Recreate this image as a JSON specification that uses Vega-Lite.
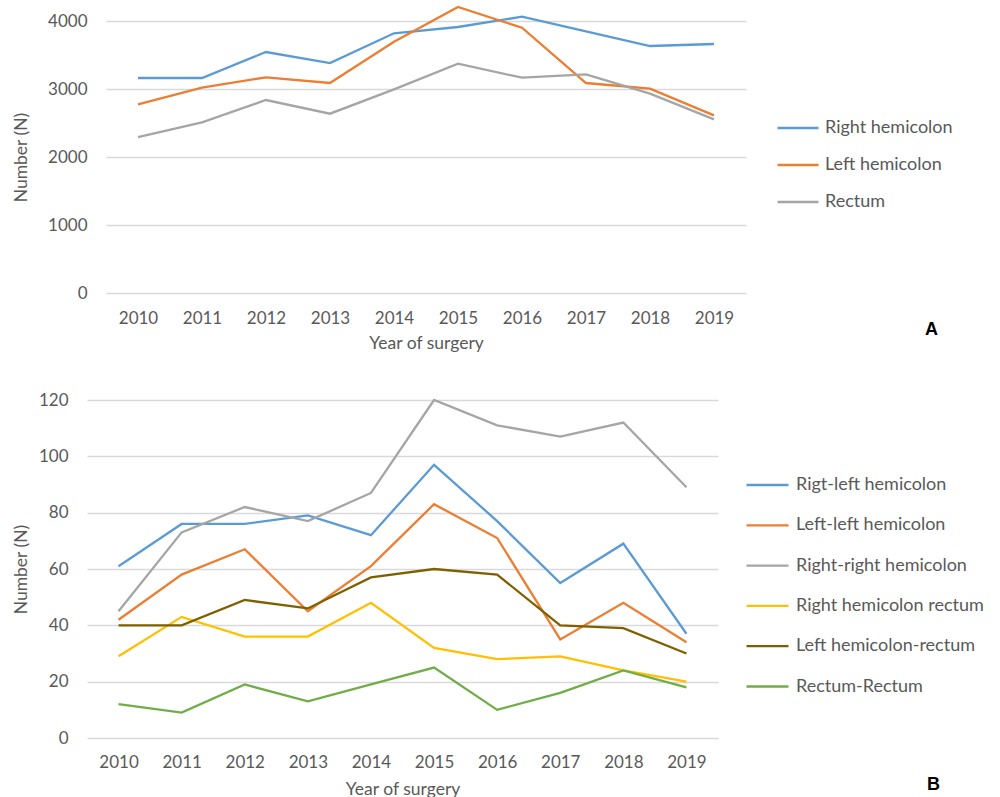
{
  "$schema": "https://vega.github.io/schema/vega-lite/v6.json",
  "padding": {"left": 12, "top": 2, "right": 5, "bottom": 0},
  "background": "white",
  "config": {
    "font": "Lato",
    "view": {"stroke": null},
    "axis": {"labelFont": "Lato", "titleFont": "Lato", "labelFontSize": 17, "titleFontSize": 17.5, "labelColor": "#595959", "titleColor": "#595959", "titleFontWeight": "normal", "domain": false, "ticks": false, "gridColor": "#D9D9D9", "gridWidth": 1.3},
    "legend": {"labelFont": "Lato", "labelFontSize": 18, "labelColor": "#595959", "labelLimit": 400, "symbolType": "stroke", "symbolStrokeWidth": 2.5, "padding": 0, "clipHeight": 20, "title": null, "orient": "none"},
    "line": {"strokeWidth": 2.3}
  },
  "datasets": {
    "a": [
      {"year": "2010", "site": "Right hemicolon", "n": 3162},
      {"year": "2011", "site": "Right hemicolon", "n": 3162},
      {"year": "2012", "site": "Right hemicolon", "n": 3544},
      {"year": "2013", "site": "Right hemicolon", "n": 3382},
      {"year": "2014", "site": "Right hemicolon", "n": 3819},
      {"year": "2015", "site": "Right hemicolon", "n": 3912},
      {"year": "2016", "site": "Right hemicolon", "n": 4063},
      {"year": "2017", "site": "Right hemicolon", "n": 3848},
      {"year": "2018", "site": "Right hemicolon", "n": 3632},
      {"year": "2019", "site": "Right hemicolon", "n": 3662},
      {"year": "2010", "site": "Left hemicolon", "n": 2775},
      {"year": "2011", "site": "Left hemicolon", "n": 3019},
      {"year": "2012", "site": "Left hemicolon", "n": 3172},
      {"year": "2013", "site": "Left hemicolon", "n": 3088},
      {"year": "2014", "site": "Left hemicolon", "n": 3696},
      {"year": "2015", "site": "Left hemicolon", "n": 4206},
      {"year": "2016", "site": "Left hemicolon", "n": 3901},
      {"year": "2017", "site": "Left hemicolon", "n": 3088},
      {"year": "2018", "site": "Left hemicolon", "n": 3004},
      {"year": "2019", "site": "Left hemicolon", "n": 2613},
      {"year": "2010", "site": "Rectum", "n": 2294},
      {"year": "2011", "site": "Rectum", "n": 2510},
      {"year": "2012", "site": "Rectum", "n": 2838},
      {"year": "2013", "site": "Rectum", "n": 2637},
      {"year": "2014", "site": "Rectum", "n": 2995},
      {"year": "2015", "site": "Rectum", "n": 3372},
      {"year": "2016", "site": "Rectum", "n": 3166},
      {"year": "2017", "site": "Rectum", "n": 3216},
      {"year": "2018", "site": "Rectum", "n": 2931},
      {"year": "2019", "site": "Rectum", "n": 2554}
    ],
    "b": [
      {"year": "2010", "pair": "Rigt-left hemicolon", "n": 61},
      {"year": "2011", "pair": "Rigt-left hemicolon", "n": 76},
      {"year": "2012", "pair": "Rigt-left hemicolon", "n": 76},
      {"year": "2013", "pair": "Rigt-left hemicolon", "n": 79},
      {"year": "2014", "pair": "Rigt-left hemicolon", "n": 72},
      {"year": "2015", "pair": "Rigt-left hemicolon", "n": 97},
      {"year": "2016", "pair": "Rigt-left hemicolon", "n": 77},
      {"year": "2017", "pair": "Rigt-left hemicolon", "n": 55},
      {"year": "2018", "pair": "Rigt-left hemicolon", "n": 69},
      {"year": "2019", "pair": "Rigt-left hemicolon", "n": 37},
      {"year": "2010", "pair": "Left-left hemicolon", "n": 42},
      {"year": "2011", "pair": "Left-left hemicolon", "n": 58},
      {"year": "2012", "pair": "Left-left hemicolon", "n": 67},
      {"year": "2013", "pair": "Left-left hemicolon", "n": 45},
      {"year": "2014", "pair": "Left-left hemicolon", "n": 61},
      {"year": "2015", "pair": "Left-left hemicolon", "n": 83},
      {"year": "2016", "pair": "Left-left hemicolon", "n": 71},
      {"year": "2017", "pair": "Left-left hemicolon", "n": 35},
      {"year": "2018", "pair": "Left-left hemicolon", "n": 48},
      {"year": "2019", "pair": "Left-left hemicolon", "n": 34},
      {"year": "2010", "pair": "Right-right hemicolon", "n": 45},
      {"year": "2011", "pair": "Right-right hemicolon", "n": 73},
      {"year": "2012", "pair": "Right-right hemicolon", "n": 82},
      {"year": "2013", "pair": "Right-right hemicolon", "n": 77},
      {"year": "2014", "pair": "Right-right hemicolon", "n": 87},
      {"year": "2015", "pair": "Right-right hemicolon", "n": 120},
      {"year": "2016", "pair": "Right-right hemicolon", "n": 111},
      {"year": "2017", "pair": "Right-right hemicolon", "n": 107},
      {"year": "2018", "pair": "Right-right hemicolon", "n": 112},
      {"year": "2019", "pair": "Right-right hemicolon", "n": 89},
      {"year": "2010", "pair": "Right hemicolon rectum", "n": 29},
      {"year": "2011", "pair": "Right hemicolon rectum", "n": 43},
      {"year": "2012", "pair": "Right hemicolon rectum", "n": 36},
      {"year": "2013", "pair": "Right hemicolon rectum", "n": 36},
      {"year": "2014", "pair": "Right hemicolon rectum", "n": 48},
      {"year": "2015", "pair": "Right hemicolon rectum", "n": 32},
      {"year": "2016", "pair": "Right hemicolon rectum", "n": 28},
      {"year": "2017", "pair": "Right hemicolon rectum", "n": 29},
      {"year": "2018", "pair": "Right hemicolon rectum", "n": 24},
      {"year": "2019", "pair": "Right hemicolon rectum", "n": 20},
      {"year": "2010", "pair": "Left hemicolon-rectum", "n": 40},
      {"year": "2011", "pair": "Left hemicolon-rectum", "n": 40},
      {"year": "2012", "pair": "Left hemicolon-rectum", "n": 49},
      {"year": "2013", "pair": "Left hemicolon-rectum", "n": 46},
      {"year": "2014", "pair": "Left hemicolon-rectum", "n": 57},
      {"year": "2015", "pair": "Left hemicolon-rectum", "n": 60},
      {"year": "2016", "pair": "Left hemicolon-rectum", "n": 58},
      {"year": "2017", "pair": "Left hemicolon-rectum", "n": 40},
      {"year": "2018", "pair": "Left hemicolon-rectum", "n": 39},
      {"year": "2019", "pair": "Left hemicolon-rectum", "n": 30},
      {"year": "2010", "pair": "Rectum-Rectum", "n": 12},
      {"year": "2011", "pair": "Rectum-Rectum", "n": 9},
      {"year": "2012", "pair": "Rectum-Rectum", "n": 19},
      {"year": "2013", "pair": "Rectum-Rectum", "n": 13},
      {"year": "2014", "pair": "Rectum-Rectum", "n": 19},
      {"year": "2015", "pair": "Rectum-Rectum", "n": 25},
      {"year": "2016", "pair": "Rectum-Rectum", "n": 10},
      {"year": "2017", "pair": "Rectum-Rectum", "n": 16},
      {"year": "2018", "pair": "Rectum-Rectum", "n": 24},
      {"year": "2019", "pair": "Rectum-Rectum", "n": 18}
    ]
  },
  "resolve": {"scale": {"color": "independent"}, "legend": {"color": "independent"}},
  "columns": 1,
  "align": {"row": "none", "column": "all"},
  "center": true,
  "bounds": "full",
  "spacing": 39,
  "concat": [
    {
      "width": 640,
      "height": 272,
      "data": {"name": "a"},
      "title": {"text": "A", "orient": "bottom", "anchor": "end", "fontSize": 18, "fontWeight": "bold", "color": "black", "font": "Liberation Sans", "offset": -31, "dx": -27},
      "mark": {"type": "line"},
      "encoding": {
        "x": {"field": "year", "type": "ordinal", "scale": {"type": "point", "padding": 0.5}, "axis": {"title": "Year of surgery", "labelAngle": 0, "labelPadding": 17, "titlePadding": 8, "grid": false}},
        "y": {"field": "n", "type": "quantitative", "scale": {"domain": [0, 4000], "nice": false}, "axis": {"title": "Number (N)", "format": "d", "values": [0, 1000, 2000, 3000, 4000], "labelPadding": 19, "titlePadding": 17}},
        "color": {"field": "site", "type": "nominal", "scale": {"domain": ["Right hemicolon", "Left hemicolon", "Rectum"], "range": ["#5B9BD5", "#ED7D31", "#A5A5A5"]}, "legend": {"legendX": 658, "legendY": 85, "padding": 12, "symbolSize": 1681, "rowPadding": 17, "labelOffset": 5}}
      }
    },
    {
      "width": 631,
      "height": 338,
      "data": {"name": "b"},
      "title": {"text": "B", "orient": "bottom", "anchor": "end", "fontSize": 18, "fontWeight": "bold", "color": "black", "font": "Liberation Sans", "offset": -22, "dx": -44},
      "mark": {"type": "line"},
      "encoding": {
        "x": {"field": "year", "type": "ordinal", "scale": {"type": "point", "padding": 0.5}, "axis": {"title": "Year of surgery", "labelAngle": 0, "labelPadding": 16, "titlePadding": 10, "grid": false}},
        "y": {"field": "n", "type": "quantitative", "scale": {"domain": [0, 120], "nice": false}, "axis": {"title": "Number (N)", "values": [0, 20, 40, 60, 80, 100, 120], "labelPadding": 19, "titlePadding": 8}},
        "color": {"field": "pair", "type": "nominal", "scale": {"domain": ["Rigt-left hemicolon", "Left-left hemicolon", "Right-right hemicolon", "Right hemicolon rectum", "Left hemicolon-rectum", "Rectum-Rectum"], "range": ["#5B9BD5", "#ED7D31", "#A5A5A5", "#FFC000", "#7F6000", "#70AD47"]}, "legend": {"legendX": 658, "legendY": 75, "symbolSize": 1764, "rowPadding": 20.3, "labelOffset": 6}}
      }
    }
  ]
}
